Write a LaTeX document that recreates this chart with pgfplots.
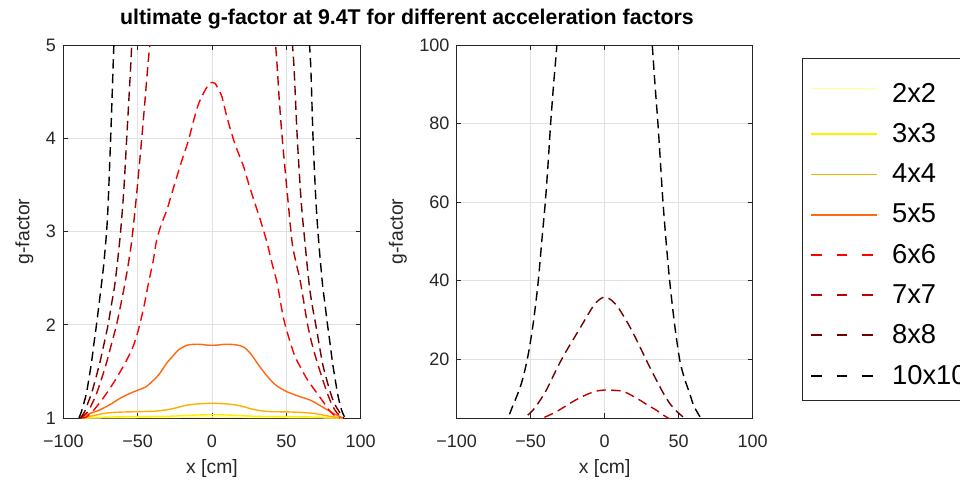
\documentclass[border=0pt]{standalone}
\usepackage{fontspec}
\setmainfont{Liberation Sans}
\usepackage{pgfplots}
\pgfplotsset{compat=1.18}
\usepackage{pgfplotstable}

% g-factor profiles along x for each acceleration factor
\pgfplotstableread{
x y
-88 1.000
-70 1.003
-50 1.005
-30 1.006
-15 1.009
0 1.012
15 1.009
30 1.006
50 1.005
70 1.003
88 1.000
}\gtwo
\pgfplotstableread{
x y
-88 1.000
-80 1.004
-70 1.010
-60 1.013
-45 1.015
-30 1.018
-18 1.027
-8 1.033
0 1.035
8 1.033
18 1.027
30 1.018
45 1.015
60 1.013
70 1.010
80 1.004
88 1.000
}\gthree
\pgfplotstableread{
x y
-88 1.000
-84.5 1.010
-79 1.028
-74 1.045
-68.7 1.057
-60 1.064
-49.6 1.068
-40 1.072
-35 1.078
-29 1.092
-23 1.113
-16.9 1.138
-8 1.153
0 1.157
8 1.153
16.9 1.138
22 1.118
25.9 1.100
32 1.080
39.4 1.068
50 1.066
60 1.060
68 1.050
75.4 1.030
81 1.014
86.7 1.002
88 1.000
}\gfour
\pgfplotstableread{
x y
-89 1.000
-86 1.020
-82 1.050
-75.5 1.086
-68 1.150
-62 1.210
-55 1.265
-49.6 1.300
-45 1.330
-41.7 1.370
-36 1.460
-30.4 1.590
-26 1.670
-22.6 1.730
-16.9 1.780
-12 1.790
-7.9 1.790
-3.5 1.782
0 1.780
3.5 1.782
7.9 1.790
12.4 1.790
17 1.782
21.4 1.760
26 1.690
30.4 1.590
36 1.470
41.6 1.370
46 1.320
50.7 1.280
58 1.235
66.4 1.190
72 1.140
77.7 1.086
83 1.040
86.7 1.010
88 1.000
}\gfive
\pgfplotstableread{
x y
-88 1.000
-84.5 1.010
-81 1.060
-77.7 1.120
-72 1.240
-66.5 1.370
-62 1.490
-57.4 1.620
-53 1.770
-49.6 1.940
-46 2.180
-42.8 2.440
-39.5 2.690
-37.2 2.910
-34 3.080
-30.4 3.230
-27 3.410
-23.6 3.590
-19.7 3.790
-15.8 3.980
-12 4.210
-9 4.370
-4.5 4.520
-1.5 4.590
0 4.600
2 4.590
4.5 4.520
6.8 4.440
10 4.230
14.6 3.980
18 3.830
21.4 3.690
24.5 3.520
28.1 3.340
32.6 3.120
37.2 2.870
40.5 2.650
43.9 2.440
48.4 2.050
55.1 1.690
60 1.530
64.2 1.410
70 1.280
75.4 1.160
79 1.080
82.2 1.030
85 1.005
86 1.000
}\gsix
\pgfplotstableread{
x y
-88.5 1.000
-87.6 1.010
-83.4 1.070
-80.5 1.160
-77.7 1.260
-74.3 1.420
-71 1.590
-67.5 1.800
-64.2 2.000
-61.3 2.220
-58.6 2.440
-56.2 2.660
-54 2.900
-51 3.350
-47.3 3.990
-45 4.420
-42.8 4.840
-41.5 5.050
-37 5.800
-32.6 6.600
-27 7.900
-21.4 9.200
-15.5 10.400
-10.1 11.300
-5 11.900
1.1 12.150
6.5 12.050
12.4 11.800
18 10.800
23.6 9.600
29 8.300
34.9 7.000
39 5.900
42.8 5.000
43.8 4.780
45.3 4.400
47.3 3.990
51 3.350
54 2.870
56.8 2.650
59.7 2.440
64.2 2.010
67.5 1.780
70.9 1.590
74.3 1.420
77.7 1.260
80.5 1.150
83.3 1.070
87 1.010
88 1.000
}\gseven
\pgfplotstableread{
x y
-88.5 1.000
-85.6 1.070
-83.5 1.160
-81.1 1.260
-78.3 1.420
-75.5 1.590
-72.7 1.790
-69.9 2.000
-67.6 2.220
-65.3 2.440
-62 2.910
-59.5 3.400
-57.4 3.990
-55.8 4.450
-54.3 4.900
-51.5 5.900
-48.4 7.000
-44 9.300
-39.4 12.100
-35 15.500
-30.4 19.000
-26 22.000
-21.4 24.900
-14.6 29.200
-7.9 33.400
-3.5 35.200
0 35.800
3.5 35.300
7.9 33.800
12.4 31.200
16.9 28.300
21.4 25.000
25.9 21.500
30.4 18.000
34.9 14.700
39.4 11.500
43.9 8.750
48.4 6.800
52.9 5.300
55.1 4.780
57.4 3.990
60.1 3.300
62.6 2.870
65.3 2.440
67.5 2.200
69.8 2.000
74.3 1.590
77 1.420
79.9 1.260
82.5 1.150
85.5 1.070
88.5 1.000
}\geight
\pgfplotstableread{
x y
-89.5 1.000
-87.8 1.070
-86.2 1.160
-84.5 1.260
-82.8 1.420
-81.1 1.590
-79.4 1.800
-77.7 2.000
-76 2.220
-74.3 2.440
-72.5 2.700
-70.3 3.150
-68.2 3.990
-66.5 4.780
-64.5 5.800
-62 8.200
-58.6 11.300
-55.5 14.800
-52 20.500
-48.5 28.500
-45.1 39.000
-42.5 50.000
-40.1 60.000
-38.2 70.000
-36.5 80.000
-34.5 90.000
-32.6 98.500
-30 112
-25 145
-20 180
-10 225
0 240
10 225
20 180
25 145
30 112
32.2 99.800
34 90.000
36 80.000
37.7 70.000
39.4 60.000
41.5 50.000
43.9 40.000
47.2 29.000
50.7 19.800
54 15.000
57.4 11.300
60 8.300
63 6.200
64.5 5.300
66.4 4.780
68 3.990
70 3.300
72 2.850
74.3 2.440
76 2.220
77.7 2.000
79.4 1.800
81.1 1.590
82.8 1.420
84.5 1.260
86.5 1.120
88 1.050
89.5 1.000
}\gten

\definecolor{gfTwo}{RGB}{255,255,150}
\definecolor{gfThree}{RGB}{255,240,0}
\definecolor{gfFour}{RGB}{255,175,0}
\definecolor{gfFive}{RGB}{255,105,15}
\definecolor{gfSix}{RGB}{255,0,0}
\definecolor{gfSeven}{RGB}{190,0,0}
\definecolor{gfEight}{RGB}{110,0,0}
\definecolor{axgray}{RGB}{38,38,38}
\definecolor{gridgray}{RGB}{225,225,225}

% gleg holds the dash pattern used for the legend sample
\tikzset{
  gleg/.style={},
  gcurve/.style={line width=1.05pt, smooth, solid},
  gdash/.style={line width=1.05pt, smooth, dash pattern=on 7pt off 4pt,
    gleg/.style={dash pattern=on 8pt off 11pt}},
}

\pgfplotsset{
  gpanel/.style={
    scale only axis, width=223pt, height=279.75pt,
    xmin=-100, xmax=100, xtick={-100,-50,0,50,100},
    xticklabels={{−100},{−50},0,50,100},
    grid=major, major grid style={draw=gridgray, line width=0.6pt},
    axis line style={draw=axgray, line width=0.6pt},
    tick style={draw=axgray, line width=0.6pt},
    tick align=inside, major tick length=3.5pt,
    ticklabel style={font=\fontsize{13.5}{16}\selectfont, text=axgray},
    label style={font=\fontsize{14.5}{17}\selectfont, text=axgray},
    /pgf/number format/assume math mode=true,
    xticklabel shift=9pt, yticklabel shift=2pt,
    xlabel={x [cm]}, ylabel={g-factor},
    xlabel shift=2.5pt, ylabel shift=2.5pt,
    clip=true, unbounded coords=jump,
  },
}

\newcommand\allcurves{%
  \addplot[gcurve, gfTwo] table {\gtwo};
  \addplot[gcurve, gfThree] table {\gthree};
  \addplot[gcurve, gfFour] table {\gfour};
  \addplot[gcurve, gfFive] table {\gfive};
  \addplot[gdash, gfSix] table {\gsix};
  \addplot[gdash, gfSeven] table {\gseven};
  \addplot[gdash, gfEight] table {\geight};
  \addplot[gdash, black] table {\gten};
}

\begin{document}
\begin{tikzpicture}
\useasboundingbox (0,0) rectangle (720pt,-362.25pt);
\clip (0,0) rectangle (720pt,-362.25pt);

\node[font=\bfseries\fontsize{16}{19}\selectfont, text=black] at (305.25pt,-14pt)
  {ultimate g-factor at 9.4T for different acceleration factors};

\begin{axis}[gpanel, at={(47.5pt,-313.5pt)}, anchor=south west,
  ymin=1, ymax=5, ytick={1,2,3,4,5}, restrict y to domain=0:25]
  \allcurves
\end{axis}

\begin{axis}[gpanel, width=222pt, at={(342.5pt,-313.5pt)}, anchor=south west,
  ymin=5, ymax=100, ytick={20,40,60,80,100},
  legend cell align=left,
  legend image code/.code={\draw[#1, line width=1.4pt, gleg] (0pt,0pt) -- (49pt,0pt);},
  legend style={at={(1.1666,0.965)}, anchor=north west,
    draw=axgray, fill=white,
    font=\fontsize{20.5}{24}\selectfont, text=black,
    row sep=10.5pt, inner xsep=6pt, inner ysep=8.75pt,
    /tikz/every odd column/.append style={column sep=9pt}}]
  \allcurves
  \legend{\rule{0pt}{22.2pt}2x2,3x3,4x4,5x5,6x6,7x7,8x8,10x10}
\end{axis}
\end{tikzpicture}
\end{document}
